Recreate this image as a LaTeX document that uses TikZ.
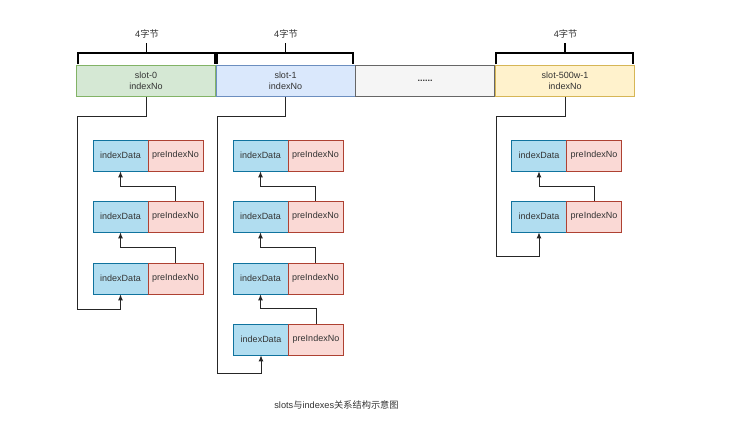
\documentclass[tikz,border=0pt]{standalone}
\usepackage{fontspec}
\setmainfont{Liberation Sans}
\newfontfamily\cjk{Noto Sans CJK SC}
\usetikzlibrary{arrows.meta}
\definecolor{gfill}{HTML}{D5E8D4}\definecolor{gline}{HTML}{82B366}
\definecolor{bfill}{HTML}{DAE8FC}\definecolor{bline}{HTML}{6C8EBF}
\definecolor{nfill}{HTML}{F5F5F5}\definecolor{nline}{HTML}{666666}
\definecolor{yfill}{HTML}{FFF2CC}\definecolor{yline}{HTML}{D6B656}
\definecolor{dfill}{HTML}{B1DDF0}\definecolor{dline}{HTML}{10739E}
\definecolor{pfill}{HTML}{FAD9D5}\definecolor{pline}{HTML}{AE4132}
\definecolor{txt}{HTML}{333333}
\tikzset{
  base/.style={font=\fontsize{9}{11.5}\selectfont, text=txt, inner sep=0pt, line width=0.8pt},
  slot/.style={base, minimum width=139pt, minimum height=31pt, align=center},
  idx/.style={base, draw=dline, fill=dfill, minimum width=55pt, minimum height=31pt},
  pre/.style={base, draw=pline, fill=pfill, minimum width=55pt, minimum height=31pt},
  link/.style={draw=black!85, line width=0.9pt, -{Latex[length=6pt,width=5pt]}},
  brk/.style={draw=black, line width=1.8pt},
  lbl/.style={font=\fontsize{9.2}{11}\selectfont, text=txt, inner sep=0pt}
}
\begin{document}
\begin{tikzpicture}[x=1pt,y=-1pt]
\path[use as bounding box, fill=white] (0,0) rectangle (735,433);

% slots
\node[slot, draw=gline, fill=gfill] (s0) at (146,81) {slot-0\\indexNo};
\node[slot, draw=bline, fill=bfill] (s1) at (285.5,81) {slot-1\\indexNo};
\node[slot, draw=nline, fill=nfill, font=\fontsize{9}{11}\bfseries] (sd) at (425,81) {\raisebox{-1.5pt}{......}};
\node[slot, draw=yline, fill=yfill] (s2) at (565,81) {slot-500w-1\\indexNo};

% brackets
\draw[brk] (78,64.5) -- (78,53) -- (215,53) -- (215,64.5);
\draw[brk] (146.5,53) -- (146.5,43);
\node[lbl] (t0) at (147,34) {4{\cjk 字节}};
\draw[brk] (217,64.5) -- (217,53) -- (353,53) -- (353,64.5);
\draw[brk] (285.5,53) -- (285.5,43);
\node[lbl] (t1) at (286,34) {4{\cjk 字节}};
\draw[brk] (496,64.5) -- (496,53) -- (633,53) -- (633,64.5);
\draw[brk] (565,53) -- (565,43);
\node[lbl] (t2) at (565.5,34) {4{\cjk 字节}};

% column 0
\node[idx] (a01) at (120.5,155.5) {indexData};
\node[pre] (b01) at (175.5,155.5) {preIndexNo};
\node[idx] (a02) at (120.5,216.5) {indexData};
\node[pre] (b02) at (175.5,216.5) {preIndexNo};
\node[idx] (a03) at (120.5,278.5) {indexData};
\node[pre] (b03) at (175.5,278.5) {preIndexNo};
\coordinate (l0) at (77,309);
\draw[link] (s0.south) -- ++(0,20) -| (l0) -| (a03.south);
\draw[link] (b02.north) -- ++(0,-14.5) -| (a01.south);
\draw[link] (b03.north) -- ++(0,-15) -| (a02.south);

% column 1
\node[idx] (a11) at (260.5,155.5) {indexData};
\node[pre] (b11) at (315.5,155.5) {preIndexNo};
\node[idx] (a12) at (260.5,216.5) {indexData};
\node[pre] (b12) at (315.5,216.5) {preIndexNo};
\node[idx] (a13) at (260.5,278.5) {indexData};
\node[pre] (b13) at (315.5,278.5) {preIndexNo};
\node[idx] (a14) at (261,339.5) {indexData};
\node[pre] (b14) at (316,339.5) {preIndexNo};
\coordinate (l1) at (217,373);
\draw[link] (s1.south) -- ++(0,20) -| (l1) -| (a14.south);
\draw[link] (b12.north) -- ++(0,-14.5) -| (a11.south);
\draw[link] (b13.north) -- ++(0,-15) -| (a12.south);
\draw[link] (b14.north) -- ++(0,-15) -| (a13.south);

% column 2
\node[idx] (a21) at (539,155.5) {indexData};
\node[pre] (b21) at (594,155.5) {preIndexNo};
\node[idx] (a22) at (539,216.5) {indexData};
\node[pre] (b22) at (594,216.5) {preIndexNo};
\coordinate (l2) at (496,256);
\draw[link] (s2.south) -- ++(0,20) -| (l2) -| (a22.south);
\draw[link] (b22.north) -- ++(0,-14.5) -| (a21.south);

% caption
\node[lbl] (cap) at (336.5,405) {slots{\cjk 与}indexes{\cjk 关系结构示意图}};
\end{tikzpicture}
\end{document}
